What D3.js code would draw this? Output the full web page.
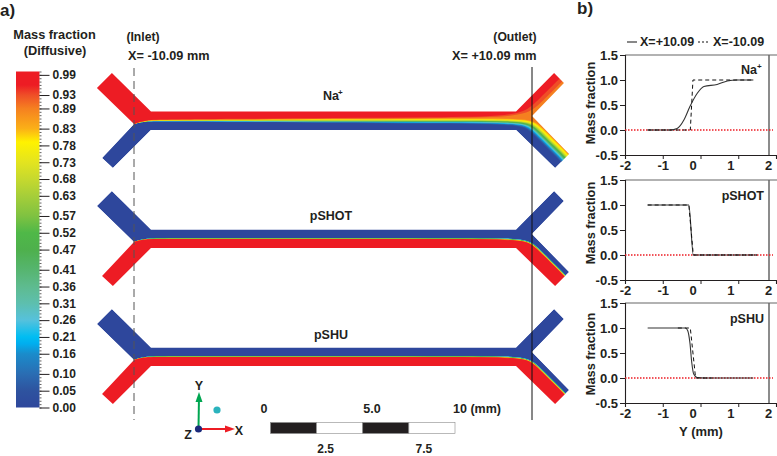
<!DOCTYPE html>
<html lang="en">
<head>
    <meta charset="utf-8" />
    <script src="https://d3js.org/d3.v7.min.js"></script>
    <style>
      html, body { margin: 0; padding: 0; background: #fff; }
      text { font-family: "Liberation Sans", Arial, sans-serif; font-weight: bold; fill: #231f20; }
    </style>
</head>
<body>
<svg id="canvas" width="777" height="456"></svg>
<script>
// colour bar
var barTicks = [0.99,0.93,0.89,0.83,0.78,0.73,0.68,0.63,0.57,0.52,0.47,0.41,0.36,0.31,0.26,0.21,0.16,0.10,0.05,0.00];
var colorVals = [0,0.05,0.10,0.16,0.19,0.21,0.26,0.31,0.36,0.41,0.47,0.52,0.57,0.63,0.68,0.73,0.79,0.83,0.89,0.93,0.96,1];
var colorHex = ["#2e479c","#2e539f","#2a6db3","#1a8ccb","#00aeef","#00bdf2","#56c1dc","#5dbfae","#5ebb8f","#56b56f","#4eb04c","#4fb848","#7fc241","#a6ce39","#c6d92e","#e3e41f","#fff200","#fbb017","#f58020","#ef4e27","#ed1c24","#ed1c24"];

// channel outline, mm from the channel centre
var channelX = [-11.21,-9.23,9.28,11.21,11.71,10.09,11.97,11.26,9.28,-9.23,-11.16,-11.71,-10.09,-11.97];
var channelY = [2.41,0.46,0.46,2.41,1.90,0.23,-1.70,-2.41,-0.48,-0.48,-2.41,-1.90,-0.18,1.65];

// interface read along the channel
var stationX = [-10.09,-9.8,-9.4,-9.2,-5,0,5,9.28];
var stationMid = [-0.18,-0.08,-0.03,0,0,0,0,0];
var naSpread = [0,0.02,0.04,0.05,0.08,0.13,0.17,0.21];
var thinSpread = [0,0.01,0.02,0.025,0.03,0.03,0.03,0.04];

var bandLevels = [0.05,0.10,0.16,0.21,0.26,0.31,0.36,0.41,0.47,0.52,0.57,0.63,0.68,0.73,0.78,0.83,0.89,0.93,0.99];
var naPos = [1,0.85,0.72,0.62,0.52,0.44,0.38,0.32,0.26,0.2,0.12,0.05,-0.02,-0.1,-0.2,-0.35,-0.55,-0.75,-1];
var thinPos = [1,0.95,0.9,0.85,0.8,0.7,0.6,0.5,0.25,0,-0.25,-0.5,-0.6,-0.7,-0.8,-0.85,-0.9,-0.95,-1];
// distance from the splitter edge inside the outlet arm, negative = upper arm
var naArm = [0.62,0.57,0.53,0.49,0.46,0.43,0.41,0.38,0.35,0.33,0.29,0.26,0.23,0.2,0.17,0.1,0.05,-0.15,-0.35];
var thinArm = [0.26,0.265,0.27,0.275,0.28,0.285,0.29,0.295,0.30,0.305,0.31,0.315,0.32,0.325,0.33,0.335,0.34,0.35,0.36];

// profiles in panel b
var naSolidX = [-1.4,-0.8,-0.62,-0.44,-0.28,-0.09,0.09,0.44,0.71,0.97,1.4];
var naSolidY = [0,0,0.03,0.2,0.47,0.73,0.87,0.91,0.98,1,1];
var naDashX = [-1.4,-0.27,-0.2,1.4];
var naDashY = [0,0,1,1];
var shotSolidX = [-1.4,-0.31,-0.19,1.5];
var shotSolidY = [1,1,0,0];
var shotDashX = [-1.4,-0.31,-0.19,1.5];
var shotDashY = [1,1,0,0];
var shuSolidX = [-1.4,-0.4,-0.34,-0.28,-0.23,-0.18,-0.09,0.09,1.4];
var shuSolidY = [1,1,0.95,0.7,0.3,0.08,0.01,0,0];
var shuDashX = [-0.6,-0.27,-0.13,0.3];
var shuDashY = [1,1,0,0];

var svg = d3.select("#canvas");
var line = d3.line();
var zip = function(xs, ys){ return xs.map(function(x, i){ return [x, ys[i]]; }); };

function label(x, y, str, size, anchor) {
  return svg.append("text").attr("x", x).attr("y", y).attr("font-size", size)
    .attr("text-anchor", anchor || "middle").text(str);
}

var defs = svg.append("defs");

// ---- colour bar
var color = d3.scaleLinear().domain(colorVals).range(colorHex);
var barY = d3.scaleLinear().domain([0, 1]).range([407.5, 71.5]);
var grad = defs.append("linearGradient").attr("id", "bar")
  .attr("x1", 0).attr("x2", 0).attr("y1", 1).attr("y2", 0);
colorVals.forEach(function(v, i){
  grad.append("stop").attr("offset", v).attr("stop-color", colorHex[i]);
});
svg.append("rect").attr("x", 16).attr("y", barY(1)).attr("width", 23.5)
  .attr("height", barY(0) - barY(1)).attr("fill", "url(#bar)");
svg.append("g").attr("transform", "translate(39.5,0)")
  .call(d3.axisRight(barY).tickValues(d3.range(0, 1.001, 0.01)).tickSize(2).tickFormat(""))
  .call(function(g){ g.select(".domain").remove(); g.selectAll("line").attr("stroke", "#9a9a9a").attr("stroke-width", 0.7); });
var barAxis = svg.append("g").attr("transform", "translate(39.5,0)")
  .call(d3.axisRight(barY).tickValues(barTicks).tickSize(10).tickPadding(3).tickFormat(d3.format(".2f")));
barAxis.select(".domain").remove();
barAxis.selectAll("line").attr("stroke", "#231f20");
barAxis.selectAll("text").attr("font-size", 12).attr("font-family", null);

label(54.5, 39, "Mass fraction", 12.8);
label(55, 55, "(Diffusive)", 12.8);
label(0, 16, "a)", 17, "start");
label(577, 14, "b)", 17, "start");

// ---- channels
var chanX = d3.scaleLinear().domain([-10.09, 10.09]).range([134, 532]);
var pxPerMm = 19.72;
var vertex = [10.09, 0.23];

function contour(spread, pos, arm, sign) {
  var pts = stationX.map(function(x, i){ return [x, stationMid[i] - sign * pos * spread[i]]; });
  var up = arm < 0, d = Math.abs(arm), k = Math.SQRT1_2;
  [0.3, 1, 7].forEach(function(s){
    pts.push(up
      ? [vertex[0] + k * s - k * d, vertex[1] + k * s + k * d]
      : [vertex[0] + k * s - k * d, vertex[1] - k * s - k * d]);
  });
  return pts;
}

function drawChannel(id, cy, topColor, spread, pos, arm, sign, name, nameDy) {
  var y = d3.scaleLinear().domain([-1, 1]).range([cy + pxPerMm, cy - pxPerMm]);
  var toPx = function(p){ return [chanX(p[0]), y(p[1])]; };
  var outline = zip(channelX, channelY).map(toPx);
  // a mask, not a clipPath: a clip is antialiased per layer and the lower bands fringe through
  defs.append("mask").attr("id", id).attr("maskUnits", "userSpaceOnUse")
    .attr("x", 0).attr("y", 0).attr("width", 777).attr("height", 456)
    .append("path").attr("d", line(outline) + "Z").attr("fill", "#fff");
  var g = svg.append("g").attr("mask", "url(#" + id + ")");
  g.append("path").attr("d", line(outline) + "Z").attr("fill", topColor);
  var curve = d3.line().curve(d3.curveBasis);
  bandLevels.forEach(function(level, i){
    var pts = contour(spread, pos[i], arm[i], sign).map(toPx);
    var end = pts[pts.length - 1], start = pts[0];
    var far = sign > 0 ? cy - 170 : cy + 170;
    var close = [[end[0], far], [60, far], [60, start[1]]];
    g.append("path").attr("d", curve(pts) + "L" + close.join("L") + "Z")
      .attr("fill", color(level));
  });
  label(chanX(0) - 2, cy + nameDy, name, 12.5);
}

drawChannel("naMask", 120.5, "#2e479c", naSpread, naPos, naArm, 1, "Na", -21);
drawChannel("shotMask", 238.5, "#2e479c", thinSpread, thinPos, thinArm, -1, "pSHOT", -19);
drawChannel("shuMask", 356.5, "#2e479c", thinSpread, thinPos, thinArm, -1, "pSHU", -18);
svg.append("text").attr("x", 338).attr("y", 95).attr("font-size", 8).attr("text-anchor", "start").text("+");

svg.append("line").attr("x1", chanX(-10.09)).attr("x2", chanX(-10.09)).attr("y1", 68).attr("y2", 420)
  .attr("stroke", "#555").attr("stroke-width", 1).attr("stroke-dasharray", "8,5");
svg.append("line").attr("x1", chanX(10.09)).attr("x2", chanX(10.09)).attr("y1", 67).attr("y2", 420)
  .attr("stroke", "#111").attr("stroke-width", 1);

label(143, 41, "(Inlet)", 12.2);
label(128, 60, "X= -10.09 mm", 12.7, "start");
label(515, 41, "(Outlet)", 12.2);
label(452, 60, "X= +10.09 mm", 12.7, "start");

// ---- triad
var arrows = [
  {x2: 199, y2: 396, c: "#00a651", head: "199,392 195.5,402 202.5,402"},
  {x2: 230, y2: 429, c: "#ed1c24", head: "235,429 225,425.5 225,432.5"}
];
arrows.forEach(function(a){
  svg.append("line").attr("x1", 198.5).attr("y1", 429).attr("x2", a.x2).attr("y2", a.y2)
    .attr("stroke", a.c).attr("stroke-width", 2);
  svg.append("polygon").attr("points", a.head).attr("fill", a.c);
});
svg.append("circle").attr("cx", 198.5).attr("cy", 429).attr("r", 3.6).attr("fill", "#1b2a7b");
svg.append("circle").attr("cx", 217).attr("cy", 410).attr("r", 3.6).attr("fill", "#2bb3bd");
label(199, 390, "Y", 12.5);
label(239, 435, "X", 12.5);
label(188, 439, "Z", 12.5);

// ---- scale bar
var scaleMm = d3.scaleLinear().domain([0, 10]).range([270.5, 455]);
var scaleEdges = [0, 2.5, 5, 7.5];
scaleEdges.forEach(function(d, i){
  svg.append("rect").attr("x", scaleMm(d)).attr("y", 422.5)
    .attr("width", scaleMm(d + 2.5) - scaleMm(d)).attr("height", 11)
    .attr("fill", i % 2 ? "#fff" : "#231f20").attr("stroke", "#8a8a8a").attr("stroke-width", 0.6);
});
label(264, 413, "0", 12.5);
label(372, 413, "5.0", 12.5);
label(453, 413, "10 (mm)", 12.5, "start");
label(scaleMm(2.5) + 9, 453.4, "2.5", 12);
label(scaleMm(7.5) + 15, 453.4, "7.5", 12);

// ---- profile panels
var plotX = d3.scaleLinear().domain([-2, 2]).range([625, 776]);
var tickShift = [0, 0, -8, -8, -8];

function drawPanel(top, solid, dash, name, nameEnd, nameY, titleY) {
  var y = d3.scaleLinear().domain([-0.5, 1.5]).range([top + 100, top]);
  var path = d3.line().x(function(d){ return plotX(d[0]); }).y(function(d){ return y(d[1]); });

  svg.append("line").attr("x1", 625).attr("x2", 777).attr("y1", top).attr("y2", top)
    .attr("stroke", "#666").attr("stroke-width", 1.2);
  svg.append("line").attr("x1", 769).attr("x2", 769).attr("y1", top).attr("y2", top + 100)
    .attr("stroke", "#666").attr("stroke-width", 1.5);

  var ax = svg.append("g").attr("transform", "translate(0," + (top + 100) + ")")
    .call(d3.axisBottom(plotX).tickValues([-2, -1, 0, 1, 2]).tickSize(4).tickPadding(2).tickFormat(d3.format("d")));
  ax.selectAll("text").attr("font-size", 13).attr("font-family", null)
    .attr("dx", function(d, i){ return tickShift[i]; })
    .text(function(d){ return String(d); });
  var ay = svg.append("g").attr("transform", "translate(625,0)")
    .call(d3.axisLeft(y).tickValues([-0.5, 0, 0.5, 1, 1.5]).tickSize(5).tickPadding(2).tickFormat(function(d){ return d.toFixed(1); }));
  ay.selectAll("text").attr("font-size", 13).attr("font-family", null);
  svg.selectAll(".domain").attr("stroke", "#231f20").attr("stroke-width", 1.1);
  svg.selectAll(".tick line").attr("stroke", "#231f20");

  svg.append("line").attr("x1", 625).attr("x2", 773).attr("y1", y(0)).attr("y2", y(0))
    .attr("stroke", "#ed1c24").attr("stroke-width", 1.5).attr("stroke-dasharray", "1.5,1.5");
  svg.append("path").attr("d", path.curve(d3.curveMonotoneX)(solid))
    .attr("fill", "none").attr("stroke", "#333").attr("stroke-width", 1.1);
  svg.append("path").attr("d", path.curve(d3.curveLinear)(dash))
    .attr("fill", "none").attr("stroke", "#111").attr("stroke-width", 1).attr("stroke-dasharray", "4,3");

  svg.append("text").attr("font-size", 12.8).attr("text-anchor", "middle")
    .attr("transform", "translate(595," + titleY + ") rotate(-90)").text("Mass fraction");
  label(nameEnd, nameY, name, 12.5, "end");
}

drawPanel(55, zip(naSolidX, naSolidY), zip(naDashX, naDashY), "Na", 757, 74, 103);
svg.append("text").attr("x", 757).attr("y", 69).attr("font-size", 8).text("+");
drawPanel(180, zip(shotSolidX, shotSolidY), zip(shotDashX, shotDashY), "pSHOT", 764, 200, 223);
drawPanel(303, zip(shuSolidX, shuSolidY), zip(shuDashX, shuDashY), "pSHU", 764, 323, 354);

label(701, 436, "Y (mm)", 13);

// legend
svg.append("line").attr("x1", 627).attr("x2", 637).attr("y1", 42).attr("y2", 42).attr("stroke", "#555").attr("stroke-width", 1.4);
label(640, 46, "X=+10.09", 12.5, "start");
svg.append("line").attr("x1", 698).attr("x2", 708).attr("y1", 42).attr("y2", 42).attr("stroke", "#111").attr("stroke-width", 1.2).attr("stroke-dasharray", "2,2");
label(713, 46, "X=-10.09", 12.5, "start");
</script>
</body>
</html>
